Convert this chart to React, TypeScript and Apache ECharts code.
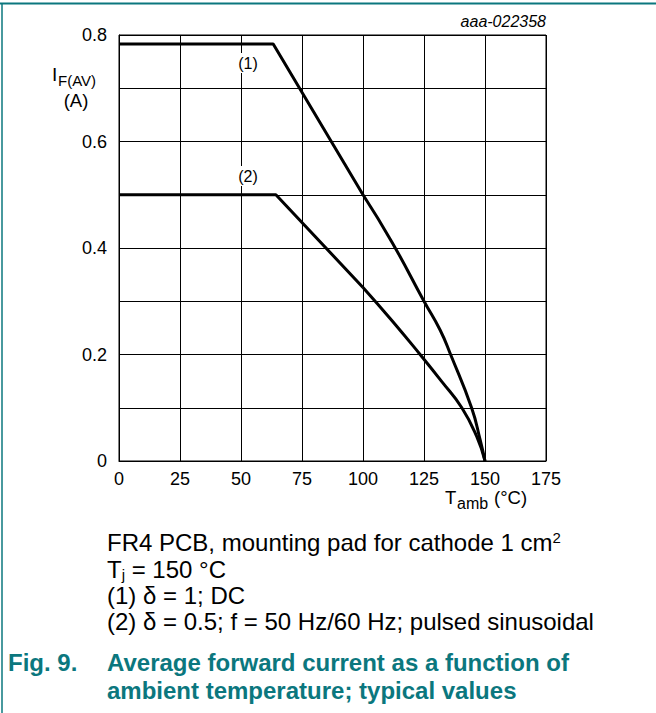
import React, { useEffect, useRef } from "react";
import * as echarts from "echarts";

// Tamb (°C) vs IF(AV) (A); each curve = straight part + curved tail
const curve1Straight: [number, number][] = [[0, 0.783], [63.2, 0.783], [100, 0.5]];
const curve1Tail: [number, number][] = [
  [100, 0.5], [112, 0.41], [125, 0.3], [131.6, 0.246], [135.9, 0.2], [144.5, 0.1], [148, 0.04], [150, 0],
];
const curve2Straight: [number, number][] = [[0, 0.5], [64.3, 0.5], [100, 0.326]];
const curve2Tail: [number, number][] = [
  [100, 0.326], [112, 0.263], [123.4, 0.2], [132.3, 0.149], [140.5, 0.1], [146.6, 0.046], [150, 0],
];
const curveLabels = ["(1)", "(2)"];
const xTicks = { min: 0, max: 175, interval: 25 };
const yTicks = { min: 0, max: 0.8, interval: 0.1 };
const captionLines = [
  "FR4 PCB, mounting pad for cathode 1 cm{sup|2}",
  "T{sub|j} = 150 °C",
  "(1) δ = 1; DC",
  "(2) δ = 0.5; f = 50 Hz/60 Hz; pulsed sinusoidal",
];
const figLabel = "Fig. 9.";
const figTitle = ["Average forward current as a function of", "ambient temperature; typical values"];

const FONT = "Arial, 'Liberation Sans', sans-serif";
const TEAL = "#0b777e";

function txt(x: number, y: number, text: string, size: number, extra: any = {}) {
  return {
    type: "text",
    x,
    y,
    silent: true,
    style: {
      text,
      fontSize: size,
      fontFamily: FONT,
      fill: extra.fill || "#000",
      fontWeight: extra.fontWeight || "normal",
      fontStyle: extra.fontStyle || "normal",
      align: extra.align || "left",
      textAlign: extra.align || "left",
      verticalAlign: extra.verticalAlign || "middle",
      textVerticalAlign: extra.verticalAlign || "middle",
      lineHeight: extra.lineHeight,
      rich: extra.rich,
      backgroundColor: extra.backgroundColor,
      padding: extra.padding,
    },
    z: 100,
  };
}

export default function App() {
  const ref = useRef<HTMLDivElement>(null);
  useEffect(() => {
    document.body.style.margin = "0";
    const chart = echarts.init(ref.current!, null, { renderer: "svg" });
    const gLeft = 119, gTop = 35, gW = 427, gH = 426;
    const lineStyle = { color: "#000", width: 3 };
    const capRich = {
      sup: { fontSize: 15, lineHeight: 12, verticalAlign: "top", fontFamily: FONT, fill: "#000" },
      sub: { fontSize: 15, lineHeight: 12, verticalAlign: "bottom", fontFamily: FONT, fill: "#000" },
    };
    chart.setOption({
      animation: false,
      backgroundColor: "#fff",
      grid: { left: gLeft, top: gTop, width: gW, height: gH, show: true, borderColor: "#000", borderWidth: 1, backgroundColor: "transparent" },
      xAxis: {
        type: "value",
        min: xTicks.min, max: xTicks.max, interval: xTicks.interval,
        axisLine: { show: true, lineStyle: { color: "#000", width: 1 } },
        axisTick: { show: false },
        axisLabel: { color: "#000", fontSize: 18, fontFamily: FONT, margin: 9, showMaxLabel: true, showMinLabel: true },
        splitLine: { show: true, lineStyle: { color: "#000", width: 1 } },
      },
      yAxis: {
        type: "value",
        min: yTicks.min, max: yTicks.max, interval: yTicks.interval,
        axisLine: { show: true, lineStyle: { color: "#000", width: 1 } },
        axisTick: { show: false },
        axisLabel: {
          color: "#000", fontSize: 18, fontFamily: FONT, margin: 12,
          formatter: (v: number) => {
            const k = Math.round(v * 10);
            if (k % 2 !== 0) return "";
            return k === 0 ? "0" : (k / 10).toFixed(1);
          },
        },
        splitLine: { show: true, lineStyle: { color: "#000", width: 1 } },
      },
      series: [
        { type: "line", data: curve1Straight, showSymbol: false, lineStyle, z: 5 },
        { type: "line", data: curve1Tail, showSymbol: false, smooth: 0.5, lineStyle, z: 5 },
        { type: "line", data: curve2Straight, showSymbol: false, lineStyle, z: 5 },
        { type: "line", data: curve2Tail, showSymbol: false, smooth: 0.5, lineStyle, z: 5 },
      ],
      graphic: [
        { type: "line", shape: { x1: 0, y1: 3.5, x2: 656, y2: 3.5 }, style: { stroke: TEAL, lineWidth: 2 } },
        { type: "line", shape: { x1: 2, y1: 3, x2: 2, y2: 713 }, style: { stroke: TEAL, lineWidth: 1.5 } },
        txt(546, 21, "aaa-022358", 16, { align: "right", fontStyle: "italic" }),
        txt(52, 74, "I", 19),
        txt(58, 80, "F(AV)", 15),
        txt(76, 100, "(A)", 18.5, { align: "center" }),
        txt(445, 497, "T", 18.5),
        txt(457, 503, "amb", 16),
        txt(494, 497, "(°C)", 18.5),
        txt(248, 63, curveLabels[0], 16, { align: "center", backgroundColor: "#fff", padding: [2, 2] }),
        txt(248, 176, curveLabels[1], 16, { align: "center", backgroundColor: "#fff", padding: [2, 2] }),
        txt(107, 529.5, captionLines.join("\n"), 24, { verticalAlign: "top", lineHeight: 26.4, rich: capRich }),
        txt(8, 662, figLabel, 24, { fill: TEAL, fontWeight: "bold" }),
        txt(107, 648, figTitle.join("\n"), 24, { fill: TEAL, fontWeight: "bold", verticalAlign: "top", lineHeight: 28 }),
      ],
    });
    return () => chart.dispose();
  }, []);
  return <div ref={ref} style={{ width: 656, height: 713 }} />;
}
